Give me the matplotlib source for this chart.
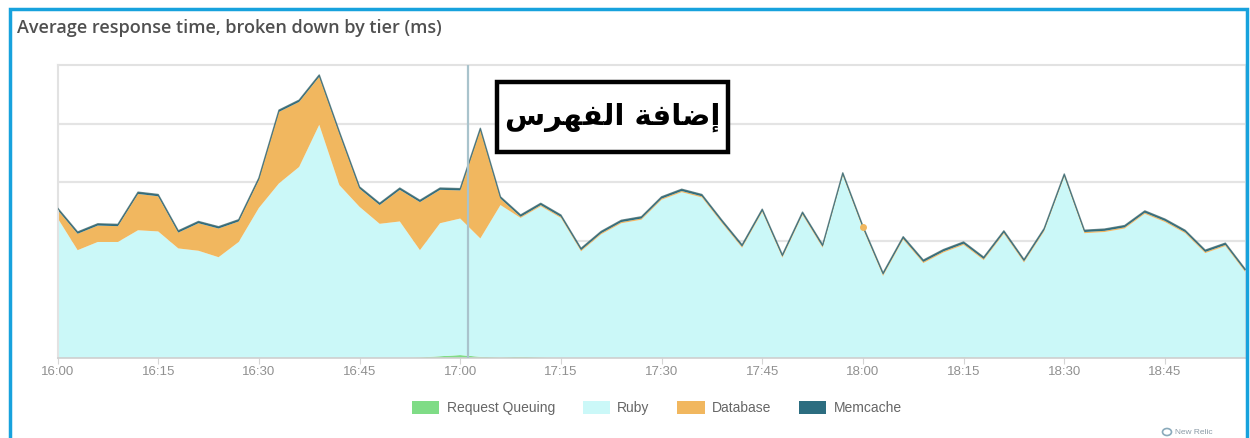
import matplotlib
matplotlib.use("Agg")
import matplotlib.pyplot as plt
from matplotlib.patches import Rectangle, Patch, Ellipse
import numpy as np

# ---------------- data (ms, one sample every 3 minutes from 16:00) ----------------
request_queuing = [0, 0, 0, 0, 0, 0, 0, 0, 0, 0,
                   0, 0, 0, 0, 0, 0, 0, 0, 1, 3,
                   5, 2, 1, 2, 1, 0, 0, 0, 0, 0,
                   0, 0, 0, 0, 0, 0, 0, 0, 0, 0,
                   0, 0, 0, 0, 0, 1, 0, 0, 0, 0,
                   0, 0, 0, 0, 0, 0, 0, 0, 0, 0]
ruby = [239, 184, 198, 198, 218, 216, 187, 183, 172, 198,
        256, 298, 326, 398, 295, 258, 229, 233, 183, 227,
        233, 202, 260, 237, 258, 239, 182, 211, 230, 236,
        270, 283, 274, 230, 188, 249, 171, 244, 188, 311,
        220, 140, 202, 162, 180, 192, 167, 212, 163, 216,
        309, 213, 215, 221, 246, 232, 213, 179, 191, 146]
database = [14, 28, 28, 27, 62, 60, 27, 47, 49, 35,
            48, 122, 111, 82, 88, 31, 32, 54, 82, 57,
            48, 185, 11, 2, 2, 2, 2, 2, 2, 2,
            2, 2, 2, 2, 2, 2, 2, 2, 2, 2,
            2, 2, 2, 2, 2, 2, 2, 2, 2, 2,
            2, 2, 2, 2, 2, 2, 2, 2, 2, 2]
memcache = [3, 3, 3, 3, 3, 3, 3, 3, 3, 3,
            3, 3, 3, 3, 3, 3, 3, 3, 3, 3,
            3, 3, 3, 3, 3, 3, 3, 3, 3, 3,
            3, 3, 3, 3, 3, 3, 3, 3, 3, 3,
            3, 3, 3, 3, 3, 3, 3, 3, 3, 3,
            3, 3, 3, 3, 3, 3, 3, 3, 3, 3]
minutes = np.arange(len(ruby)) * 3          # minutes after 16:00
tick_minutes = [0, 15, 30, 45, 60, 75, 90, 105, 120, 135, 150, 165]
tick_labels = ["16:00", "16:15", "16:30", "16:45", "17:00", "17:15",
               "17:30", "17:45", "18:00", "18:15", "18:30", "18:45"]
series_names = ["Request Queuing", "Ruby", "Database", "Memcache"]
series_colors = ["#7fdc86", "#cbf8f8", "#f1b75f", "#2c6d80"]
cursor_minute = 61.2
marker_index = 40
title = "Average response time, broken down by tier (ms)"
# "إضافة الفهرس" shaped into presentation forms, visual (left-to-right) order
annotation = "\ufeb1\ufeae\ufeec\ufed4\ufedf\ufe8d \ufe94\ufed3\ufe8e\ufebf\ufe87"

# ---------------- figure ----------------
W, H = 1250, 438
fig = plt.figure(figsize=(W / 100, H / 100), dpi=100)
fig.patch.set_facecolor("white")
ax = fig.add_axes([57.5 / W, 80 / H, 1188 / W, 293 / H])

ax.stackplot(minutes, request_queuing, ruby, database, memcache,
             colors=series_colors, linewidth=0, edgecolor="none", zorder=2)
top = np.array(request_queuing) + np.array(ruby) + np.array(database) + np.array(memcache)
ax.plot(minutes, top, color="#3f6a70", lw=1.0, alpha=0.8, zorder=3)

ax.set_xlim(0, 177)
ax.set_ylim(0, 500)
for g in [200, 300, 400]:
    ax.axhline(g, color="#e4e4e4", lw=1.6, zorder=1)
ax.axvline(cursor_minute, color="#a9c3cc", lw=1.6, zorder=4)
ax.plot(minutes[marker_index], top[marker_index] - 2, "o", color="#f1b75f",
        ms=4, zorder=5)

ax.set_xticks(tick_minutes)
ax.set_xticklabels(tick_labels, fontfamily="Liberation Sans", fontsize=9.5,
                   color="#909090")
ax.set_yticks([])
ax.tick_params(axis="x", length=4, color="#d5d5d5", pad=2)
for s in ["left", "right", "top"]:
    ax.spines[s].set_color("#e2e2e2")
    ax.spines[s].set_linewidth(1.5)
ax.spines["bottom"].set_color("#cfcfcf")
ax.spines["bottom"].set_linewidth(1.2)

# annotation box
box_x0, box_y0, box_w, box_h = 497, 82, 231, 70
fig.patches.append(Rectangle((box_x0 / W, 1 - (box_y0 + box_h) / H),
                             box_w / W, box_h / H, transform=fig.transFigure,
                             facecolor="white", edgecolor="black", lw=3.2,
                             zorder=10))
fig.text((box_x0 + box_w / 2) / W, 1 - (box_y0 + box_h / 2) / H, annotation,
         ha="center", va="center", fontsize=21, fontweight="bold",
         family=["DejaVu Sans"], color="black", zorder=11)

# title
fig.text(17 / W, 1 - 28 / H, title, ha="left", va="center",
         fontsize=13, fontweight="semibold", color="#505050",
         family=["Open Sans", "Liberation Sans"])

# legend
handles = [Patch(facecolor=c, edgecolor="none") for c in series_colors]
leg = fig.legend(handles, series_names, loc="center",
                 bbox_to_anchor=(657 / W, 1 - 408 / H), ncol=4, frameon=False,
                 prop={"family": "Liberation Sans", "size": 10},
                 handlelength=1.95, handleheight=1.1, handletextpad=0.55,
                 columnspacing=2.0)
for t in leg.get_texts():
    t.set_color("#666666")

# New Relic mark
fig.patches.append(Ellipse((1167 / W, 1 - 432 / H), 9 / W, 7 / H,
                           transform=fig.transFigure, facecolor="none",
                           edgecolor="#8aaabb", lw=1.2))
fig.text(1175 / W, 1 - 432 / H, "New Relic", ha="left", va="center",
         fontsize=6, color="#8a9aa6", family="Liberation Sans")

# outer blue frame
fig.patches.append(Rectangle((10 / W, -0.1), 1237 / W, 1.1 - 9 / H,
                             transform=fig.transFigure, facecolor="none",
                             edgecolor="#17a2dd", lw=2.5, zorder=20))

fig.savefig("out.png", dpi=100, facecolor="white")
